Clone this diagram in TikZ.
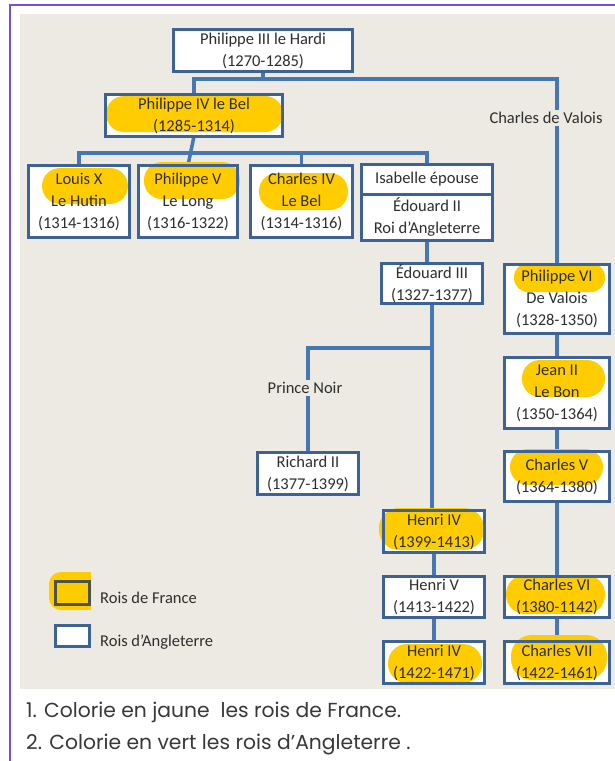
\documentclass[tikz,border=0pt]{standalone}
\usepackage{fontspec}
\setmainfont{Carlito}
\newfontfamily\instrfont{Poppins}
\definecolor{boxblue}{HTML}{3D6296}
\definecolor{lineblue}{HTML}{4677B4}
\definecolor{hlyellow}{HTML}{FFCC00}
\definecolor{txt}{HTML}{2E2E2E}
\definecolor{beige}{HTML}{ECEAE2}
\definecolor{framepurple}{HTML}{7A4FD6}
\newcommand{\boxfont}{\fontsize{16.5}{22}\selectfont}
\pgfdeclarelayer{bglayer}
\pgfdeclarelayer{hllayer}
\pgfdeclarelayer{borderlayer}
\pgfsetlayers{bglayer,hllayer,borderlayer,main}
\tikzset{
  kbox/.style={inner sep=0pt, align=center, font=\boxfont, text=txt},
  boxfill/.style={fill=white},
  boxline/.style={draw=boxblue, line width=2.8pt},
  conn/.style={draw=lineblue, line width=3.5pt},
  lbl/.style={fill=beige, inner sep=2pt, font=\boxfont, text=txt},
  legtxt/.style={anchor=west, inner sep=0pt, font=\boxfont, text=txt},
  instr/.style={anchor=west, inner sep=0pt, font=\instrfont\fontsize{20.3}{24}\selectfont, text=black!78},
  hilite/.style={fill=hlyellow}
}
\begin{document}
\begin{tikzpicture}[x=1pt, y=-1pt]
\useasboundingbox (0,0) rectangle (614,761);

% boxes (text only; shapes drawn on layers)
\node[kbox, minimum width=179pt, minimum height=42pt] (p3) at (263,50.5) {Philippe III le Hardi\\(1270-1285)};
\node[kbox, minimum width=177pt, minimum height=41pt] (p4) at (194,115.5) {Philippe IV le Bel\\(1285-1314)};
\node[kbox, minimum width=101pt, minimum height=72pt] (lx) at (79,201.5) {Louis X\\Le Hutin\\(1314-1316)};
\node[kbox, minimum width=99pt, minimum height=72pt] (p5) at (188,201.5) {Philippe V\\Le Long\\(1316-1322)};
\node[kbox, minimum width=102pt, minimum height=72pt] (c4) at (301.5,201.5) {Charles IV\\Le Bel\\(1314-1316)};
\node[kbox, minimum width=130pt, minimum height=30pt] (isa) at (427,179.5) {Isabelle épouse};
\node[kbox, minimum width=130pt, minimum height=45pt, anchor=north] (ed2) at (isa.south) {Édouard II\\Roi d’Angleterre};
\node[kbox, minimum width=101pt, minimum height=40pt] (e3) at (432,283.5) {Édouard III\\(1327-1377)};
\node[kbox, minimum width=104pt, minimum height=69pt] (p6) at (557,299) {Philippe VI\\De Valois\\(1328-1350)};
\node[kbox, minimum width=104pt, minimum height=71pt] (j2) at (557,393) {Jean II\\Le Bon\\(1350-1364)};
\node[kbox, minimum width=104pt, minimum height=50pt] (c5) at (557,476.5) {Charles V\\(1364-1380)};
\node[kbox, minimum width=101pt, minimum height=42pt] (r2) at (308,473.5) {Richard II\\(1377-1399)};
\node[kbox, minimum width=101pt, minimum height=42pt] (h4a) at (434,531.5) {Henri IV\\(1399-1413)};
\node[kbox, minimum width=101pt, minimum height=41pt] (h5) at (434,597) {Henri V\\(1413-1422)};
\node[kbox, minimum width=101pt, minimum height=42pt] (h4b) at (434,662.5) {Henri IV\\(1422-1471)};
\node[kbox, minimum width=104pt, minimum height=41pt] (c6) at (557,597) {Charles VI\\(1380-1142)};
\node[kbox, minimum width=104pt, minimum height=42pt] (c7) at (557,662.5) {Charles VII\\(1422-1461)};

% legend boxes
\node[kbox, minimum width=33pt, minimum height=22pt] (lgf) at (72.5,593) {};
\node[kbox, minimum width=33pt, minimum height=20pt] (lga) at (72.5,636) {};
\node[legtxt] (lgft) at (100,598) {Rois de France};
\node[legtxt] (lgat) at (100,642) {Rois d’Angleterre};

% labels on lines
\node[lbl] (cdv) at (546,118) {Charles de Valois};
\node[lbl] (pnoir) at (305,388) {Prince Noir};

% instructions
\node[instr] (i1) at (26,712) {1. Colorie en jaune\ \ les rois de France.};
\node[instr] (i2) at (26,745) {2. Colorie en vert les rois d’Angleterre .};

\begin{pgfonlayer}{bglayer}
\fill[white] (0,0) rectangle (614,761);
\draw[framepurple, line width=2.2pt] (10,5) rectangle (640,790);
\fill[beige] (19.6,13.5) rectangle (620,689);
% connectors
\coordinate (vtop) at (557,79);
\coordinate (row) at (194,153);
\coordinate (pn) at (432,348);
\draw[conn] (p3.south) -- (p3.south |- vtop);
\draw[conn] (p4.north) |- (vtop) -- (p6.north);
\draw[conn] (p4.south) -- (p5.north);
\draw[conn] (lx.north) |- (row) -| (isa.north);
\draw[conn] (row) -| (c4.north);
\draw[conn] (ed2.south) -- (ed2.south |- e3.north);
\draw[conn] (e3.south) -- (e3.south |- h4a.north);
\draw[conn] (pn) -| (r2.north);
\draw[conn] (p6.south) -- (j2.north);
\draw[conn] (j2.south) -- (c5.north);
\draw[conn] (c5.south) -- (c6.north);
\draw[conn] (c6.south) -- (c7.north);
\draw[conn] (h4a.south) -- (h5.north);
\draw[conn] (h5.south) -- (h4b.north);
% re-cover line under labels
\fill[beige] (cdv.south west) rectangle (cdv.north east);
\fill[beige] (pnoir.south west) rectangle (pnoir.north east);
% box fills
\foreach \n in {p3,p4,lx,p5,c4,isa,ed2,e3,p6,j2,c5,r2,h4a,h5,h4b,c6,c7,lgf,lga}
  \fill[boxfill] (\n.south west) rectangle (\n.north east);
\end{pgfonlayer}

\begin{pgfonlayer}{hllayer}
\fill[hilite, rounded corners=18pt] (106,96) rectangle (283,132);
\fill[hilite, rounded corners=18pt] (42,168) rectangle (128,204);
\fill[hilite, rounded corners=18pt] (144,162) rectangle (240,199);
\fill[hilite, rounded corners=18pt] (259,173) rectangle (348,210);
\fill[hilite, rounded corners=14pt] (514,263) rectangle (605,292);
\fill[hilite, rounded corners=18pt] (522,360) rectangle (605,397);
\fill[hilite, rounded corners=18pt] (510,449) rectangle (603,485);
\fill[hilite, rounded corners=20pt] (379,508) rectangle (484,550);
\fill[hilite, rounded corners=19pt] (388,644) rectangle (482,683);
\fill[hilite, rounded corners=19pt] (506,575) rectangle (605,614);
\fill[hilite, rounded corners=21pt] (511,635) rectangle (607,680);
\fill[hilite, rounded corners=12pt] (49,572) rectangle (91,610);
\fill[hilite] (70,572) rectangle (91,610);
\end{pgfonlayer}

\begin{pgfonlayer}{borderlayer}
\foreach \n in {p3,p4,lx,p5,c4,isa,ed2,e3,p6,j2,c5,r2,h4a,h5,h4b,c6,c7,lga}
  \draw[boxline] (\n.south west) rectangle (\n.north east);
\draw[boxline, draw=boxblue!55!black!80!hlyellow] (lgf.south west) rectangle (lgf.north east);
\end{pgfonlayer}
\end{tikzpicture}
\end{document}
